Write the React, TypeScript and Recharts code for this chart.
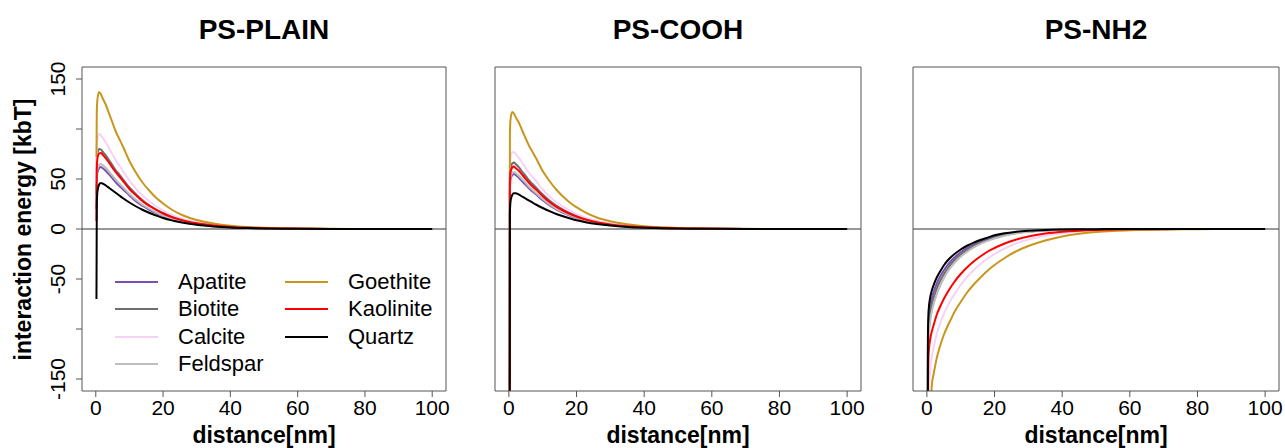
import React from 'react';
import { LineChart, Line, XAxis, YAxis, ReferenceLine, Legend } from 'recharts';

// ---------- data ----------
const DISTANCE = [0.2, 0.3, 0.5, 1, 1.5, 2, 3, 4, 5, 6, 7, 8, 10, 12, 14, 16, 18, 20, 23, 26, 30, 35, 40, 45, 50, 55, 60, 70, 80, 90, 100];

const MINERALS = ['Apatite', 'Biotite', 'Calcite', 'Feldspar', 'Goethite', 'Kaolinite', 'Quartz'];
const COLORS = ['#7A4FB3', '#6E6E6E', '#F7D2F7', '#BDBDBD', '#C8961C', '#FF0000', '#000000'];

const PANEL_TITLES = ['PS-PLAIN', 'PS-COOH', 'PS-NH2'];
const X_TICKS = [0, 20, 40, 60, 80, 100];
const Y_TICKS = [-150, -100, -50, 0, 50, 100, 150];
const Y_LABELED = [150, 50, 0, -50, -150];
const X_LABEL = 'distance[nm]';
const Y_LABEL = 'interaction energy [kbT]';

// PS-PLAIN
const PLAIN_APATITE = [20, 48, 57, 61, 62, 61, 58, 54.5, 50.5, 46.5, 43, 40, 33.5, 27.5, 23, 19, 15.8, 13, 9.6, 7.1, 4.8, 3, 1.8, 1.1, 0.66, 0.4, 0.24, 0.08, 0.03, 0, 0];
const PLAIN_BIOTITE = [35, 68, 76, 80, 79.5, 77.5, 73.5, 68.5, 63.5, 58.5, 54.5, 50, 41.5, 34.5, 28.5, 23.5, 19.5, 16, 11.8, 8.7, 5.8, 3.6, 2.2, 1.3, 0.8, 0.5, 0.3, 0.1, 0.04, 0, 0];
const PLAIN_CALCITE = [45, 82, 90, 95, 94, 91.5, 86.5, 80.5, 74.5, 68.5, 63.5, 58.5, 48.5, 40, 33, 27.5, 22.5, 18.5, 13.5, 10, 6.7, 4.1, 2.5, 1.5, 0.9, 0.55, 0.3, 0.1, 0.04, 0, 0];
const PLAIN_FELDSPAR = [25, 52, 60, 64, 65, 64, 61, 57, 53, 49, 45.5, 42, 35, 29, 24, 20, 16.5, 13.5, 10, 7.4, 5, 3.1, 1.9, 1.15, 0.7, 0.42, 0.25, 0.09, 0.03, 0, 0];
const PLAIN_GOETHITE = [72, 118, 130, 137, 135, 131, 124, 115, 106, 97, 90, 83, 68, 56, 46, 38, 31, 25.5, 18.5, 13.5, 9, 5.5, 3.3, 2, 1.2, 0.7, 0.4, 0.15, 0.05, 0, 0];
const PLAIN_KAOLINITE = [8, 60, 71, 75.5, 76, 74.5, 70.5, 66, 61, 56.5, 52.5, 48.5, 40, 33.5, 27.5, 23, 19, 15.5, 11.5, 8.5, 5.7, 3.5, 2.1, 1.3, 0.8, 0.5, 0.3, 0.1, 0.04, 0, 0];
const PLAIN_QUARTZ = [-70, 25, 38, 44.5, 46, 45.5, 43.5, 41, 38.5, 36, 33.5, 31, 26.5, 22.5, 19, 16, 13.5, 11, 8.3, 6.2, 4.2, 2.6, 1.6, 1, 0.6, 0.36, 0.22, 0.08, 0.03, 0.01, 0];

// PS-COOH
const COOH_APATITE = [-400, 38, 50, 54, 55, 54, 51, 47.5, 44, 40.5, 37.5, 34.7, 28.8, 23.8, 19.6, 16.2, 13.4, 11, 8.1, 6, 4, 2.5, 1.5, 0.9, 0.55, 0.33, 0.2, 0.07, 0.02, 0, 0];
const COOH_BIOTITE = [-400, 50, 61, 65.5, 66.5, 65, 61.5, 57, 53, 48.5, 45, 41.5, 34.5, 28.5, 23.5, 19.5, 16, 13.2, 9.7, 7.2, 4.8, 3, 1.8, 1.1, 0.66, 0.4, 0.24, 0.08, 0.03, 0, 0];
const COOH_CALCITE = [-400, 62, 72, 76.5, 77, 75, 71, 66, 61, 56, 52, 48, 39.5, 32.5, 27, 22.3, 18.3, 15, 11, 8.1, 5.4, 3.3, 2, 1.2, 0.74, 0.45, 0.26, 0.09, 0.03, 0, 0];
const COOH_FELDSPAR = [-400, 40, 52, 56, 57, 56, 53, 49.5, 46, 42, 39, 36, 30, 24.7, 20.3, 16.8, 13.9, 11.4, 8.4, 6.2, 4.2, 2.6, 1.6, 0.95, 0.57, 0.34, 0.2, 0.07, 0.02, 0, 0];
const COOH_GOETHITE = [-400, 95, 110, 117, 115.5, 112, 106, 98, 90.5, 83, 77, 71, 58, 48, 39.5, 32.5, 26.5, 21.8, 15.8, 11.5, 7.7, 4.7, 2.8, 1.7, 1, 0.6, 0.34, 0.13, 0.04, 0, 0];
const COOH_KAOLINITE = [-400, 45, 57, 61.5, 62.5, 61, 58, 54, 50, 46, 42.5, 39.5, 32.8, 27, 22.3, 18.5, 15.2, 12.5, 9.2, 6.8, 4.6, 2.8, 1.7, 1, 0.62, 0.38, 0.22, 0.08, 0.03, 0, 0];
const COOH_QUARTZ = [-400, 15, 28, 34, 35.8, 35.8, 34.3, 32.3, 30.3, 28.3, 26.4, 24.5, 21, 17.8, 15, 12.7, 10.7, 8.8, 6.6, 5, 3.4, 2.1, 1.3, 0.8, 0.48, 0.29, 0.18, 0.06, 0.02, 0.01, 0];

// PS-NH2
const NH2_APATITE = [-400, -125, -93, -77, -69, -63, -54, -47, -41.5, -36.5, -32.5, -29, -23.3, -18.8, -15.2, -12.3, -9.9, -7.9, -5.5, -3.8, -2.3, -1.2, -0.66, -0.36, -0.2, -0.11, -0.06, -0.02, -0.01, 0, 0];
const NH2_BIOTITE = [-400, -135, -102, -84, -75, -69, -59, -51.5, -45.5, -40, -35.5, -31.7, -25.5, -20.6, -16.7, -13.5, -10.9, -8.7, -6.1, -4.2, -2.6, -1.4, -0.75, -0.4, -0.22, -0.12, -0.07, -0.02, -0.01, 0, 0];
const NH2_CALCITE = [-500, -250, -175, -140, -127, -118, -104, -93.5, -85, -78, -71.5, -66, -56, -47.5, -40.5, -34.5, -29.5, -25, -19.5, -15, -10.5, -6.7, -4.2, -2.6, -1.6, -1, -0.6, -0.22, -0.08, -0.03, -0.01];
const NH2_FELDSPAR = [-400, -148, -112, -92, -82, -75, -64.5, -56.5, -49.5, -43.5, -38.7, -34.6, -27.8, -22.5, -18.2, -14.7, -11.9, -9.5, -6.7, -4.6, -2.9, -1.6, -0.85, -0.45, -0.25, -0.14, -0.08, -0.02, -0.01, 0, 0];
const NH2_GOETHITE = [-600, -500, -350, -200, -155, -145, -128, -116, -106, -98, -91, -84, -73, -63, -55, -48, -41.5, -36, -29, -23, -17, -11.5, -7.5, -4.8, -3, -1.9, -1.2, -0.45, -0.17, -0.06, -0.02];
const NH2_KAOLINITE = [-400, -170, -125, -110, -102, -96, -85, -77, -70, -64, -58.5, -53.5, -45, -38, -32, -27, -22.5, -19, -14.5, -11, -7.5, -4.6, -2.8, -1.7, -1, -0.6, -0.36, -0.13, -0.05, -0.02, 0];
const NH2_QUARTZ = [-400, -110, -82, -68, -61, -56, -48, -42, -36.5, -32, -28.5, -25.5, -20.5, -16.5, -13.3, -10.7, -8.6, -6.3, -4.3, -2.9, -1.7, -0.9, -0.5, -0.27, -0.15, -0.08, -0.04, -0.01, 0, 0, 0];

const PANEL_SERIES = [
  [PLAIN_APATITE, PLAIN_BIOTITE, PLAIN_CALCITE, PLAIN_FELDSPAR, PLAIN_GOETHITE, PLAIN_KAOLINITE, PLAIN_QUARTZ],
  [COOH_APATITE, COOH_BIOTITE, COOH_CALCITE, COOH_FELDSPAR, COOH_GOETHITE, COOH_KAOLINITE, COOH_QUARTZ],
  [NH2_APATITE, NH2_BIOTITE, NH2_CALCITE, NH2_FELDSPAR, NH2_GOETHITE, NH2_KAOLINITE, NH2_QUARTZ],
];

// ---------- layout / style ----------
const FONT = '"Liberation Sans", Arial, Helvetica, sans-serif';
const X_DOMAIN: [number, number] = [-4.1, 104.1];
const Y_DOMAIN: [number, number] = [-162, 162];
const PANEL_BOXES = [
  { left: 82, width: 364 },
  { left: 495, width: 366 },
  { left: 913, width: 366 },
];
const RIGHT_M = 4;
const TOP_M = 66;
const X_AXIS_H = 57;
const AXIS_COLOR = '#555';

function buildRows(series: number[][]) {
  return DISTANCE.map((d, i) => {
    const row: Record<string, number> = { x: d };
    MINERALS.forEach((m, j) => {
      row[m] = series[j][i];
    });
    return row;
  });
}

const XTick = (props: any) => {
  const { x, y, payload } = props;
  return (
    <text x={x} y={y + 18} textAnchor="middle" fontSize={21} fill="#000" fontFamily={FONT}>
      {payload.value}
    </text>
  );
};

const YTick = (props: any) => {
  const { x, y, payload } = props;
  if (!Y_LABELED.includes(payload.value)) return <g />;
  const tx = x - 11;
  return (
    <text
      x={tx}
      y={y}
      transform={`rotate(-90 ${tx} ${y})`}
      textAnchor="middle"
      fontSize={21}
      fill="#000"
      fontFamily={FONT}
    >
      {payload.value}
    </text>
  );
};

const LegendBox = () => (
  <div
    style={{
      display: 'grid',
      gridTemplateColumns: '170px 170px',
      gridTemplateRows: 'repeat(4, 27.5px)',
      gridAutoFlow: 'column',
      fontFamily: FONT,
      fontSize: 22,
      color: '#000',
    }}
  >
    {MINERALS.map((m, i) => (
      <div key={m} style={{ display: 'flex', alignItems: 'center', whiteSpace: 'nowrap' }}>
        <span style={{ display: 'inline-block', width: 43, height: 2, background: COLORS[i], marginRight: 20 }} />
        <span>{m}</span>
      </div>
    ))}
  </div>
);

function Panel({ index }: { index: number }) {
  const box = PANEL_BOXES[index];
  const yAxisW = index === 0 ? box.left : 70;
  const cw = yAxisW + box.width + RIGHT_M + 1;
  const chartLeft = box.left - yAxisW;
  const rows = buildRows(PANEL_SERIES[index]);
  const centerX = yAxisW + box.width / 2;

  const xLabel = () => (
    <text x={centerX} y={443} textAnchor="middle" fontSize={23} fontWeight="bold" fill="#000" fontFamily={FONT}>
      {X_LABEL}
    </text>
  );
  const yLabel = () => (
    <text
      x={31}
      y={229.5}
      transform="rotate(-90 31 229.5)"
      textAnchor="middle"
      fontSize={23}
      fontWeight="bold"
      fill="#000"
      fontFamily={FONT}
    >
      {Y_LABEL}
    </text>
  );

  return (
    <div style={{ position: 'absolute', left: chartLeft, top: 0, width: cw, height: 448 }}>
      <div
        style={{
          position: 'absolute',
          left: yAxisW + box.width / 2 - 150,
          width: 300,
          top: 16,
          textAlign: 'center',
          fontFamily: FONT,
          fontSize: 28,
          fontWeight: 'bold',
          lineHeight: '28px',
          color: '#000',
        }}
      >
        {PANEL_TITLES[index]}
      </div>
      <LineChart width={cw} height={448} data={rows} margin={{ top: TOP_M, right: RIGHT_M, bottom: 0, left: 0 }}>
        <XAxis
          xAxisId="b"
          type="number"
          dataKey="x"
          domain={X_DOMAIN}
          ticks={X_TICKS}
          interval={0}
          allowDataOverflow
          height={X_AXIS_H}
          tickSize={6}
          tickMargin={0}
          stroke={AXIS_COLOR}
          tick={<XTick />}
          label={xLabel}
        />
        <XAxis
          xAxisId="t"
          orientation="top"
          type="number"
          dataKey="x"
          domain={X_DOMAIN}
          allowDataOverflow
          height={1}
          tick={false}
          tickLine={false}
          stroke={AXIS_COLOR}
        />
        <YAxis
          yAxisId="l"
          type="number"
          domain={Y_DOMAIN}
          ticks={Y_TICKS}
          interval={0}
          allowDataOverflow
          width={yAxisW}
          tickSize={6}
          tickMargin={0}
          stroke={AXIS_COLOR}
          tick={index === 0 ? <YTick /> : false}
          label={index === 0 ? yLabel : undefined}
        />
        <YAxis
          yAxisId="r"
          orientation="right"
          type="number"
          domain={Y_DOMAIN}
          allowDataOverflow
          width={1}
          tick={false}
          tickLine={false}
          stroke={AXIS_COLOR}
        />
        <ReferenceLine xAxisId="b" yAxisId="l" y={0} stroke="#333" strokeWidth={1} />
        {MINERALS.map((m, i) => (
          <Line
            key={m}
            xAxisId="b"
            yAxisId="l"
            dataKey={m}
            type="monotone"
            stroke={COLORS[i]}
            strokeWidth={2}
            dot={false}
            activeDot={false}
            isAnimationActive={false}
          />
        ))}
        {index === 0 && (
          <Legend
            layout="horizontal"
            verticalAlign="middle"
            align="center"
            wrapperStyle={{ left: 115 - chartLeft, top: 268, width: 340, height: 112 }}
            content={() => <LegendBox />}
          />
        )}
      </LineChart>
    </div>
  );
}

export default function App() {
  return (
    <div
      style={{
        position: 'absolute',
        left: 0,
        top: 0,
        width: 1285,
        height: 448,
        background: '#fff',
        overflow: 'hidden',
        fontFamily: FONT,
      }}
    >
      {PANEL_TITLES.map((t, i) => (
        <Panel key={t} index={i} />
      ))}
    </div>
  );
}
